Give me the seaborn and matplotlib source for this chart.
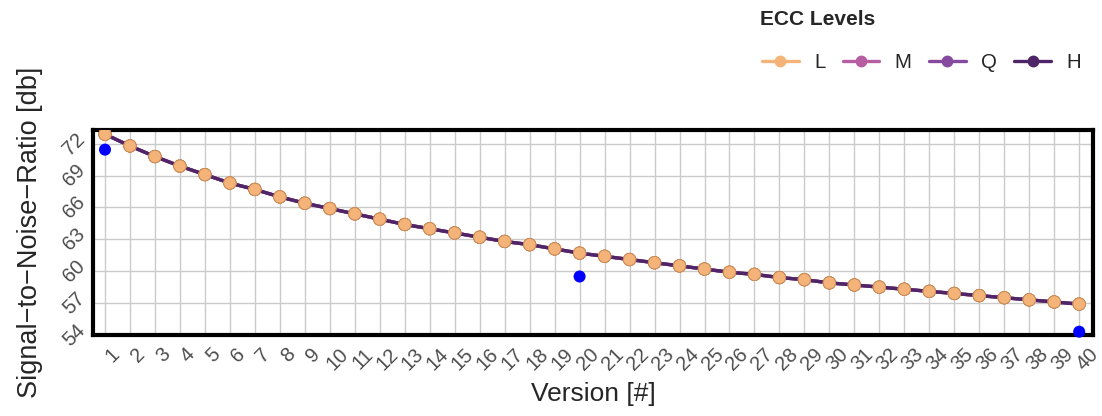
import numpy as np
import pandas as pd
import matplotlib
matplotlib.use('Agg')
import matplotlib.pyplot as plt
import matplotlib.transforms as mtransforms
from matplotlib.lines import Line2D
import seaborn as sns

# data
versions = list(range(1, 41))
snr_db = [72.9, 71.8, 70.8, 69.9, 69.1, 68.3, 67.7, 67.0, 66.4, 65.9,
          65.4, 64.9, 64.4, 64.0, 63.6, 63.2, 62.8, 62.5, 62.1, 61.7,
          61.4, 61.1, 60.8, 60.5, 60.2, 59.9, 59.7, 59.4, 59.2, 58.9,
          58.7, 58.5, 58.3, 58.1, 57.9, 57.7, 57.5, 57.3, 57.1, 56.9]
ecc_levels = ['L', 'M', 'Q', 'H']
ecc_colors = ['#F4B479', '#B75DA2', '#8549A0', '#4E2566']
meas_versions = [1, 20, 40]
meas_snr = [71.45, 59.5, 54.3]
y_ticks = [54, 57, 60, 63, 66, 69, 72]

rows = []
for lvl in ecc_levels:
    for v, s in zip(versions, snr_db):
        rows.append({'version': v, 'snr': s, 'ecc': lvl})
df = pd.DataFrame(rows)
pal = dict(zip(ecc_levels, ecc_colors))

sns.set_style('white')
plt.rcParams['font.family'] = ['Liberation Sans', 'DejaVu Sans']

fig = plt.figure(figsize=(11.02, 4.16), dpi=100)
ax = fig.add_axes([0.0844, 0.195, 0.9076, 0.4925])

sns.lineplot(data=df, x='version', y='snr', hue='ecc', hue_order=ecc_levels,
             palette=pal, linewidth=2.4, legend=False, ax=ax, zorder=2)
# points: reversed row order so the L markers end up on top
sns.scatterplot(data=df.iloc[::-1], x='version', y='snr', hue='ecc',
                hue_order=ecc_levels, palette=pal, s=80, edgecolor='#C98A55',
                linewidth=0.6, legend=False, ax=ax, zorder=3)
ax.scatter(meas_versions, meas_snr, s=75, color='#0000FF', edgecolor='none',
           zorder=4, clip_on=False)

ax.set_xlim(0.52, 40.56)
ax.set_ylim(54, 73.3)
ax.set_xticks(versions)
ax.set_yticks(y_ticks)
ax.grid(True, color='#CACACA', linewidth=1.0)
ax.set_axisbelow(True)
for sp in ax.spines.values():
    sp.set_color('black')
    sp.set_linewidth(3)

ax.tick_params(axis='both', length=0, labelsize=14.5, labelcolor='#4D4D4D')
ax.tick_params(axis='x', pad=7)
ax.tick_params(axis='y', pad=3)
shift = mtransforms.ScaledTranslation(8 / 100, 0, fig.dpi_scale_trans)
for lab in ax.get_xticklabels():
    lab.set_rotation(45)
    lab.set_ha('center')
    lab.set_va('top')
    lab.set_transform(lab.get_transform() + shift)
for lab in ax.get_yticklabels():
    lab.set_rotation(45)
    lab.set_ha('right')
    lab.set_va('center')

ax.set_xlabel('Version [#]', fontsize=19, labelpad=6)
ax.set_ylabel('Signal\u2212to\u2212Noise\u2212Ratio [db]', fontsize=19.5, labelpad=12)

fig.text(0.69, 0.952, 'ECC Levels', fontsize=15, fontweight='bold',
         ha='left', va='center')
handles = [Line2D([0], [0], color=c, lw=2.4, marker='o', markersize=7.5)
           for c in ecc_colors]
fig.legend(handles, ecc_levels, ncol=4, loc='center left',
           bbox_to_anchor=(0.684, 0.85), frameon=False, fontsize=14.7,
           handlelength=1.8, handletextpad=0.75, columnspacing=0.85,
           borderaxespad=0.0)

fig.savefig('out.png', dpi=100)
